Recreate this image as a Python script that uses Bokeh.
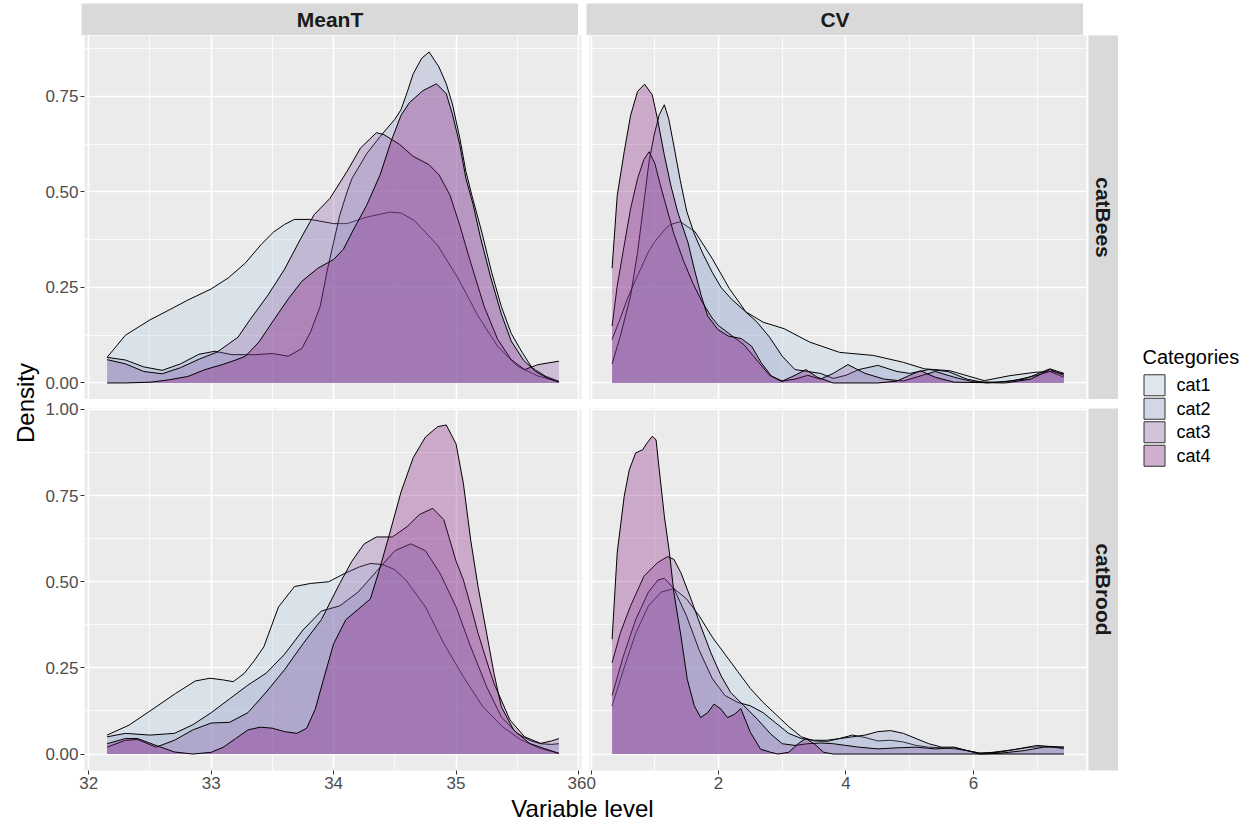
import math
from bokeh.plotting import figure
from bokeh.models import (Range1d, FactorRange, FixedTicker, LinearAxis, Grid, Label,
                          NumeralTickFormatter, ColumnDataSource, Spacer)
from bokeh.core.properties import value
from bokeh.layouts import row, column
from bokeh.embed import file_html
from bokeh.resources import INLINE

# ---------------- data ----------------
CATEGORIES = ["cat1", "cat2", "cat3", "cat4"]
VARIABLES = ["MeanT", "CV"]
GROUPS = ["catBees", "catBrood"]
MEANT_TICKS = [32, 33, 34, 35, 36]
MEANT_MINOR = [32.5, 33.5, 34.5, 35.5]
CV_TICKS = [0, 2, 4, 6]
CV_MINOR = [1, 3, 5, 7]
Y_TICKS_BEES = [0.0, 0.25, 0.5, 0.75]
Y_MINOR_BEES = [0.125, 0.375, 0.625, 0.875]
Y_TICKS_BROOD = [0.0, 0.25, 0.5, 0.75, 1.0]
Y_MINOR_BROOD = [0.125, 0.375, 0.625, 0.875]

# MeanT / catBees
MT_BEES_CAT1_X = [32.15, 32.3, 32.5, 32.68, 32.81, 33.0, 33.14, 33.28, 33.41, 33.51, 33.6, 33.68, 33.81, 34.0, 34.11, 34.27, 34.46, 34.55, 34.66, 34.85, 35.02, 35.18, 35.34, 35.5, 35.67, 35.84]
MT_BEES_CAT1_Y = [0.067, 0.125, 0.165, 0.195, 0.217, 0.246, 0.275, 0.314, 0.363, 0.395, 0.415, 0.428, 0.428, 0.417, 0.417, 0.434, 0.447, 0.445, 0.425, 0.36, 0.272, 0.175, 0.096, 0.044, 0.018, 0.004]
MT_BEES_CAT2_X = [32.15, 32.3, 32.45, 32.6, 32.75, 32.9, 33.03, 33.17, 33.36, 33.5, 33.63, 33.74, 33.81, 33.89, 33.95, 34.0, 34.05, 34.11, 34.15, 34.27, 34.38, 34.5, 34.55, 34.6, 34.65, 34.72, 34.78, 34.86, 34.92, 34.97, 35.03, 35.08, 35.13, 35.21, 35.29, 35.37, 35.45, 35.54, 35.62, 35.73, 35.84]
MT_BEES_CAT2_Y = [0.067, 0.06, 0.042, 0.033, 0.05, 0.075, 0.083, 0.074, 0.074, 0.077, 0.07, 0.09, 0.132, 0.2, 0.298, 0.368, 0.439, 0.5, 0.535, 0.6, 0.645, 0.69, 0.715, 0.76, 0.809, 0.85, 0.866, 0.827, 0.783, 0.73, 0.642, 0.554, 0.49, 0.395, 0.29, 0.2, 0.13, 0.08, 0.04, 0.018, 0.004]
MT_BEES_CAT3_X = [32.15, 32.3, 32.45, 32.6, 32.75, 32.9, 33.05, 33.22, 33.32, 33.46, 33.6, 33.73, 33.84, 33.97, 34.11, 34.22, 34.35, 34.41, 34.54, 34.65, 34.78, 34.86, 34.95, 35.03, 35.11, 35.23, 35.34, 35.45, 35.56, 35.67, 35.84]
MT_BEES_CAT3_Y = [0.061, 0.05, 0.03, 0.024, 0.04, 0.062, 0.081, 0.12, 0.167, 0.228, 0.298, 0.377, 0.44, 0.483, 0.554, 0.615, 0.655, 0.65, 0.624, 0.593, 0.571, 0.545, 0.492, 0.413, 0.325, 0.2, 0.114, 0.061, 0.035, 0.048, 0.057]
MT_BEES_CAT4_X = [32.15, 32.3, 32.5, 32.65, 32.81, 32.95, 33.09, 33.2, 33.28, 33.39, 33.52, 33.63, 33.74, 33.87, 34.0, 34.08, 34.16, 34.27, 34.38, 34.47, 34.55, 34.62, 34.73, 34.84, 34.92, 34.97, 35.03, 35.08, 35.14, 35.2, 35.28, 35.37, 35.45, 35.55, 35.65, 35.75, 35.84]
MT_BEES_CAT4_Y = [0.0, 0.0, 0.002, 0.008, 0.017, 0.035, 0.048, 0.06, 0.07, 0.107, 0.169, 0.22, 0.266, 0.3, 0.323, 0.35, 0.4, 0.465, 0.545, 0.633, 0.7, 0.734, 0.765, 0.783, 0.757, 0.704, 0.624, 0.536, 0.466, 0.38, 0.28, 0.18, 0.11, 0.06, 0.03, 0.012, 0.002]

# MeanT / catBrood
MT_BROOD_CAT1_X = [32.15, 32.33, 32.55, 32.71, 32.87, 32.99, 33.1, 33.18, 33.27, 33.35, 33.43, 33.55, 33.68, 33.81, 33.96, 34.09, 34.21, 34.3, 34.4, 34.5, 34.59, 34.75, 34.9, 35.06, 35.22, 35.38, 35.53, 35.69, 35.84]
MT_BROOD_CAT1_Y = [0.055, 0.084, 0.137, 0.176, 0.212, 0.22, 0.215, 0.21, 0.234, 0.27, 0.311, 0.427, 0.486, 0.495, 0.5, 0.524, 0.543, 0.553, 0.55, 0.535, 0.505, 0.427, 0.321, 0.224, 0.137, 0.079, 0.041, 0.016, 0.002]
MT_BROOD_CAT2_X = [32.15, 32.3, 32.5, 32.7, 32.85, 33.0, 33.15, 33.3, 33.45, 33.6, 33.75, 33.9, 34.05, 34.2, 34.35, 34.5, 34.63, 34.75, 34.87, 35.0, 35.12, 35.25, 35.37, 35.5, 35.6, 35.69, 35.78, 35.84]
MT_BROOD_CAT2_Y = [0.05, 0.06, 0.055, 0.06, 0.085, 0.12, 0.16, 0.2, 0.235, 0.29, 0.36, 0.415, 0.43, 0.47, 0.53, 0.59, 0.61, 0.59, 0.524, 0.427, 0.311, 0.195, 0.108, 0.06, 0.04, 0.03, 0.028, 0.03]
MT_BROOD_CAT3_X = [32.15, 32.3, 32.4, 32.55, 32.7, 32.85, 33.0, 33.15, 33.3, 33.45, 33.6, 33.75, 33.9, 34.05, 34.15, 34.25, 34.35, 34.48, 34.6, 34.7, 34.81, 34.9, 35.0, 35.06, 35.12, 35.18, 35.25, 35.31, 35.44, 35.56, 35.69, 35.78, 35.84]
MT_BROOD_CAT3_Y = [0.02, 0.04, 0.042, 0.02, 0.04, 0.07, 0.09, 0.092, 0.12, 0.18, 0.245, 0.32, 0.39, 0.495, 0.56, 0.61, 0.63, 0.63, 0.66, 0.695, 0.713, 0.68, 0.56, 0.505, 0.43, 0.35, 0.27, 0.205, 0.099, 0.05, 0.031, 0.038, 0.045]
MT_BROOD_CAT4_X = [32.15, 32.3, 32.4, 32.55, 32.7, 32.85, 33.0, 33.1, 33.2, 33.3, 33.4, 33.5, 33.6, 33.7, 33.78, 33.85, 33.92, 34.0, 34.1, 34.2, 34.3, 34.37, 34.45, 34.55, 34.65, 34.75, 34.85, 34.92, 35.0, 35.06, 35.12, 35.18, 35.25, 35.31, 35.37, 35.47, 35.6, 35.72, 35.84]
MT_BROOD_CAT4_Y = [0.03, 0.045, 0.045, 0.025, 0.006, 0.0, 0.005, 0.02, 0.045, 0.07, 0.078, 0.075, 0.065, 0.06, 0.075, 0.13, 0.22, 0.32, 0.39, 0.42, 0.45, 0.53, 0.63, 0.76, 0.86, 0.92, 0.95, 0.955, 0.9, 0.785, 0.62, 0.485, 0.35, 0.234, 0.137, 0.07, 0.031, 0.016, 0.002]

# CV / catBees
CV_BEES_CAT1_X = [0.33, 0.45, 0.57, 0.7, 0.9, 1.0, 1.17, 1.25, 1.4, 1.63, 1.9, 2.17, 2.43, 2.7, 3.03, 3.43, 3.9, 4.43, 4.9, 5.23, 5.63, 5.9, 6.17, 6.57, 6.97, 7.23, 7.42]
CV_BEES_CAT1_Y = [0.114, 0.165, 0.22, 0.27, 0.343, 0.37, 0.404, 0.415, 0.422, 0.396, 0.326, 0.247, 0.186, 0.159, 0.142, 0.107, 0.08, 0.072, 0.054, 0.037, 0.032, 0.019, 0.006, 0.019, 0.028, 0.03, 0.024]
CV_BEES_CAT2_X = [0.33, 0.46, 0.62, 0.73, 0.83, 0.91, 0.99, 1.07, 1.15, 1.22, 1.3, 1.4, 1.5, 1.62, 1.75, 1.9, 2.04, 2.2, 2.4, 2.6, 2.8, 3.0, 3.2, 3.4, 3.6, 3.8, 4.0, 4.2, 4.5, 4.8, 5.0, 5.3, 5.6, 5.9, 6.2, 6.6, 7.0, 7.2, 7.42]
CV_BEES_CAT2_Y = [0.05, 0.123, 0.228, 0.342, 0.474, 0.579, 0.649, 0.702, 0.728, 0.69, 0.62, 0.53, 0.45, 0.39, 0.34, 0.29, 0.25, 0.22, 0.19, 0.16, 0.12, 0.07, 0.035, 0.03, 0.025, 0.012, 0.02, 0.035, 0.046, 0.03, 0.025, 0.035, 0.03, 0.01, 0.0, 0.005, 0.02, 0.03, 0.015]
CV_BEES_CAT3_X = [0.33, 0.41, 0.52, 0.62, 0.73, 0.83, 0.91, 1.0, 1.1, 1.2, 1.3, 1.45, 1.6, 1.75, 1.9, 2.0, 2.2, 2.4, 2.6, 2.8, 3.0, 3.2, 3.4, 3.6, 3.8, 4.03, 4.3, 4.6, 4.9, 5.2, 5.4, 5.7, 6.0, 6.4, 6.8, 7.2, 7.42]
CV_BEES_CAT3_Y = [0.149, 0.254, 0.36, 0.456, 0.535, 0.585, 0.605, 0.575, 0.51, 0.45, 0.39, 0.32, 0.26, 0.21, 0.17, 0.15, 0.125, 0.1, 0.06, 0.02, 0.005, 0.01, 0.02, 0.01, 0.025, 0.048, 0.025, 0.01, 0.005, 0.02, 0.03, 0.015, 0.003, 0.002, 0.01, 0.037, 0.025]
CV_BEES_CAT4_X = [0.33, 0.41, 0.52, 0.62, 0.73, 0.84, 0.96, 1.04, 1.15, 1.25, 1.36, 1.52, 1.62, 1.73, 1.83, 1.99, 2.15, 2.36, 2.52, 2.67, 2.83, 2.99, 3.2, 3.37, 3.55, 3.8, 4.5, 4.8, 5.0, 5.17, 5.4, 5.7, 6.5, 6.9, 7.2, 7.42]
CV_BEES_CAT4_Y = [0.30, 0.49, 0.605, 0.70, 0.763, 0.782, 0.754, 0.693, 0.596, 0.518, 0.447, 0.368, 0.298, 0.228, 0.175, 0.14, 0.123, 0.116, 0.096, 0.053, 0.018, 0.004, 0.02, 0.035, 0.015, 0.0, 0.0, 0.005, 0.02, 0.032, 0.015, 0.002, 0.0, 0.01, 0.035, 0.02]

# CV / catBrood
CV_BROOD_CAT1_X = [0.33, 0.5, 0.7, 0.9, 1.1, 1.3, 1.5, 1.7, 1.9, 2.1, 2.3, 2.5, 2.7, 2.9, 3.1, 3.3, 3.5, 3.7, 3.9, 4.1, 4.3, 4.5, 4.7, 4.9, 5.1, 5.3, 5.5, 5.7, 5.9, 6.1, 6.3, 6.6, 6.9, 7.2, 7.42]
CV_BROOD_CAT1_Y = [0.14, 0.24, 0.35, 0.43, 0.47, 0.48, 0.45, 0.40, 0.34, 0.29, 0.24, 0.19, 0.15, 0.115, 0.08, 0.05, 0.038, 0.036, 0.045, 0.055, 0.048, 0.038, 0.04, 0.035, 0.025, 0.02, 0.018, 0.015, 0.01, 0.002, 0.005, 0.012, 0.02, 0.022, 0.02]
CV_BROOD_CAT2_X = [0.33, 0.5, 0.7, 0.9, 1.05, 1.15, 1.3, 1.5, 1.7, 1.9, 2.1, 2.3, 2.5, 2.7, 2.9, 3.1, 3.3, 3.5, 3.7, 3.9, 4.1, 4.3, 4.5, 4.7, 4.9, 5.1, 5.3, 5.5, 5.7, 5.9, 6.1, 6.4, 6.7, 7.0, 7.2, 7.42]
CV_BROOD_CAT2_Y = [0.17, 0.28, 0.39, 0.47, 0.505, 0.51, 0.48, 0.4, 0.3, 0.22, 0.17, 0.15, 0.14, 0.12, 0.09, 0.06, 0.045, 0.04, 0.04, 0.045, 0.05, 0.055, 0.065, 0.068, 0.06, 0.045, 0.03, 0.02, 0.02, 0.01, 0.003, 0.005, 0.015, 0.025, 0.022, 0.015]
CV_BROOD_CAT3_X = [0.33, 0.46, 0.62, 0.83, 1.04, 1.2, 1.3, 1.41, 1.57, 1.72, 1.88, 2.04, 2.19, 2.4, 2.61, 2.82, 3.0, 3.2, 3.4, 3.6, 3.8, 4.0, 4.2, 4.5, 4.8, 5.1, 5.4, 5.7, 5.9, 6.1, 6.4, 6.8, 7.1, 7.42]
CV_BROOD_CAT3_Y = [0.265, 0.352, 0.43, 0.516, 0.555, 0.573, 0.565, 0.526, 0.449, 0.372, 0.294, 0.227, 0.179, 0.14, 0.101, 0.058, 0.03, 0.025, 0.03, 0.032, 0.03, 0.025, 0.02, 0.015, 0.018, 0.02, 0.015, 0.018, 0.01, 0.0, 0.002, 0.01, 0.02, 0.02]
CV_BROOD_CAT4_X = [0.33, 0.41, 0.52, 0.6, 0.7, 0.81, 0.88, 0.96, 1.02, 1.07, 1.15, 1.23, 1.3, 1.41, 1.51, 1.62, 1.72, 1.83, 1.93, 2.04, 2.14, 2.25, 2.35, 2.5, 2.66, 2.82, 2.93, 3.1, 3.25, 3.37, 3.5, 3.65, 3.8, 4.5, 5.5, 6.5, 7.42]
CV_BROOD_CAT4_Y = [0.333, 0.584, 0.748, 0.825, 0.874, 0.883, 0.903, 0.922, 0.912, 0.825, 0.69, 0.584, 0.468, 0.343, 0.217, 0.14, 0.106, 0.12, 0.145, 0.13, 0.106, 0.115, 0.132, 0.063, 0.014, 0.005, 0.0, 0.005, 0.03, 0.045, 0.03, 0.005, 0.0, 0.0, 0.0, 0.0, 0.0]

SERIES = {
    ("MeanT", "catBees"): [(MT_BEES_CAT1_X, MT_BEES_CAT1_Y), (MT_BEES_CAT2_X, MT_BEES_CAT2_Y),
                           (MT_BEES_CAT3_X, MT_BEES_CAT3_Y), (MT_BEES_CAT4_X, MT_BEES_CAT4_Y)],
    ("MeanT", "catBrood"): [(MT_BROOD_CAT1_X, MT_BROOD_CAT1_Y), (MT_BROOD_CAT2_X, MT_BROOD_CAT2_Y),
                            (MT_BROOD_CAT3_X, MT_BROOD_CAT3_Y), (MT_BROOD_CAT4_X, MT_BROOD_CAT4_Y)],
    ("CV", "catBees"): [(CV_BEES_CAT1_X, CV_BEES_CAT1_Y), (CV_BEES_CAT2_X, CV_BEES_CAT2_Y),
                        (CV_BEES_CAT3_X, CV_BEES_CAT3_Y), (CV_BEES_CAT4_X, CV_BEES_CAT4_Y)],
    ("CV", "catBrood"): [(CV_BROOD_CAT1_X, CV_BROOD_CAT1_Y), (CV_BROOD_CAT2_X, CV_BROOD_CAT2_Y),
                         (CV_BROOD_CAT3_X, CV_BROOD_CAT3_Y), (CV_BROOD_CAT4_X, CV_BROOD_CAT4_Y)],
}

# ---------------- styles / layout sizes ----------------
PALETTE = ["#b3cde3", "#8c96c6", "#8856a7", "#810f7c"]
FILL_ALPHA = 0.3
FONT = "Liberation Sans"
PANEL_BG = "#EBEBEB"
STRIP_BG = "#D9D9D9"
KEY_BG = (242, 242, 242)
FRAME_W = 497
TOP_H = 364
BOT_H = 362
GAP = 9
YLAB_W = 42
LEFT_AX = 39
AX_BOTTOM = 26
STRIP_TOP = 3
STRIP_H = 32
STRIP_W = 30
XLAB_H = 28
XLAB_FY = 1 - 12 / XLAB_H
LEG_W = 134
LEG_TITLE_TOP = 343
LEG_TITLE_H = 26
LEG_KEYS_TOP = 373
LEG_SLOT = 23.5
LEG_KEY_X = 36
LEG_LABEL_X = 58
LEG_TITLE_X = 24


def expand(lo, hi, frac=0.05):
    d = (hi - lo) * frac
    return Range1d(lo - d, hi + d)


def x_range_for(var):
    xs = [v for g in GROUPS for (x, _) in SERIES[(var, g)] for v in x]
    return expand(min(xs), max(xs))


def y_range_for(grp):
    ys = [v for var in VARIABLES for (_, y) in SERIES[(var, grp)] for v in y]
    return expand(0.0, max(ys))


def style_axis(ax):
    ax.axis_line_color = None
    ax.major_tick_line_color = "#333333"
    ax.major_tick_out = 4
    ax.major_tick_in = 0
    ax.minor_tick_line_color = None
    ax.major_label_text_color = "#4D4D4D"
    ax.major_label_text_font_size = "17px"
    ax.major_label_text_font = FONT
    ax.major_label_standoff = 2


X_TICKS = {"MeanT": (MEANT_TICKS, MEANT_MINOR), "CV": (CV_TICKS, CV_MINOR)}
Y_TICKS = {"catBees": (Y_TICKS_BEES, Y_MINOR_BEES), "catBrood": (Y_TICKS_BROOD, Y_MINOR_BROOD)}
X_RANGES = {v: x_range_for(v) for v in VARIABLES}
Y_RANGES = {g: y_range_for(g) for g in GROUPS}


def panel(var, grp, left_axis, bottom_axis, bl, br, bt, bb, fh):
    p = figure(frame_width=FRAME_W, frame_height=fh,
               x_range=X_RANGES[var], y_range=Y_RANGES[grp],
               x_axis_location=None, y_axis_location=None,
               toolbar_location=None, output_backend="svg",
               background_fill_color=PANEL_BG, border_fill_color="white",
               outline_line_color=None,
               min_border_left=bl, min_border_right=br, min_border_top=bt, min_border_bottom=bb)
    p.center = [r for r in p.center if not isinstance(r, Grid)]
    xt, xm = X_TICKS[var]
    yt, ym = Y_TICKS[grp]
    for dim, (t, m) in ((0, (xt, xm)), (1, (yt, ym))):
        g = Grid(dimension=dim, ticker=FixedTicker(ticks=t, minor_ticks=m),
                 grid_line_color="white", grid_line_width=1.6,
                 minor_grid_line_color="white", minor_grid_line_width=0.8)
        p.add_layout(g, "center")
    for i, (xs, ys) in enumerate(SERIES[(var, grp)]):
        src = ColumnDataSource(dict(x=xs, y=ys))
        p.varea(x="x", y1=0, y2="y", source=src, fill_color=PALETTE[i], fill_alpha=FILL_ALPHA)
        p.line(x="x", y="y", source=src, line_color="black", line_width=1.0, line_join="round")
    if left_axis:
        ax = LinearAxis(ticker=FixedTicker(ticks=yt), formatter=NumeralTickFormatter(format="0.00"))
        style_axis(ax)
        p.add_layout(ax, "left")
    if bottom_axis:
        ax = LinearAxis(ticker=FixedTicker(ticks=xt))
        style_axis(ax)
        p.add_layout(ax, "below")
    return p


def text_box(w, h, text, size, bold=False, angle=0.0, bg=None, bl=0, br=0, bt=0, bb=0,
             color="#1A1A1A", align="center", fx=0.5, fy=0.5):
    p = figure(frame_width=w, frame_height=h, x_range=Range1d(0, 1), y_range=Range1d(0, 1),
               x_axis_location=None, y_axis_location=None, toolbar_location=None,
               output_backend="svg", outline_line_color=None,
               background_fill_color=bg if bg else "white", border_fill_color="white",
               min_border_left=bl, min_border_right=br, min_border_top=bt, min_border_bottom=bb)
    p.grid.visible = False
    p.add_layout(Label(x=fx, y=fy, text=text, text_align=align, text_baseline="middle",
                       text_font=FONT, text_font_size=size,
                       text_font_style="bold" if bold else "normal",
                       text_color=color, angle=angle))
    return p


# strips
strip_mean = text_box(FRAME_W, STRIP_H, VARIABLES[0], "21px", bold=True, bg=STRIP_BG, bt=STRIP_TOP)
strip_cv = text_box(FRAME_W, STRIP_H, VARIABLES[1], "21px", bold=True, bg=STRIP_BG, bt=STRIP_TOP)
strip_bees = text_box(STRIP_W, TOP_H, GROUPS[0], "21px", bold=True, angle=-math.pi / 2, bg=STRIP_BG)
strip_brood = text_box(STRIP_W, BOT_H, GROUPS[1], "21px", bold=True, angle=-math.pi / 2, bg=STRIP_BG,
                       bt=GAP, bb=AX_BOTTOM)

# panels
p_tl = panel("MeanT", "catBees", True, False, LEFT_AX, 5, 0, 0, TOP_H)
p_tr = panel("CV", "catBees", False, False, 3, 2, 0, 0, TOP_H)
p_bl = panel("MeanT", "catBrood", True, True, LEFT_AX, 5, GAP, AX_BOTTOM, BOT_H)
p_br = panel("CV", "catBrood", False, True, 3, 2, GAP, AX_BOTTOM, BOT_H)

# axis titles
xlab = text_box(FRAME_W * 2 + 8, XLAB_H, "Variable level", "24px", bl=LEFT_AX, color="black", fy=XLAB_FY)
ylab = text_box(YLAB_W - 8, TOP_H + GAP + BOT_H, "Density", "24px", angle=math.pi / 2,
                bl=8, bt=STRIP_TOP + STRIP_H, bb=AX_BOTTOM + XLAB_H, color="black")

# legend: title + keys drawn on a categorical scale
leg_title = figure(frame_width=LEG_W, frame_height=LEG_TITLE_H, x_range=Range1d(0, LEG_W),
                   y_range=Range1d(0, 1), x_axis_location=None, y_axis_location=None,
                   toolbar_location=None, output_backend="svg", outline_line_color=None,
                   min_border=0, background_fill_color="white", border_fill_color="white")
leg_title.grid.visible = False
leg_title.add_layout(Label(x=LEG_TITLE_X, y=0.5, text="Categories", text_align="left",
                           text_baseline="middle", text_font=FONT, text_font_size="20px",
                           text_color="black"))

key_colors = []
for i in range(len(CATEGORIES)):
    rgb = [int(round(int(PALETTE[i][1 + 2 * k:3 + 2 * k], 16) * FILL_ALPHA + KEY_BG[k] * (1 - FILL_ALPHA)))
           for k in range(3)]
    key_colors.append("#%02x%02x%02x" % tuple(rgb))

keys_h = int(round(LEG_SLOT * len(CATEGORIES)))
leg_keys = figure(frame_width=LEG_W, frame_height=keys_h, x_range=Range1d(0, LEG_W),
                  y_range=FactorRange(factors=list(reversed(CATEGORIES)), range_padding=0),
                  x_axis_location=None, y_axis_location=None,
                  toolbar_location=None, output_backend="svg", outline_line_color=None,
                  min_border=0, background_fill_color="white", border_fill_color="white")
leg_keys.grid.visible = False
key_src = ColumnDataSource(dict(cat=CATEGORIES, color=key_colors,
                                kx=[LEG_KEY_X] * len(CATEGORIES), lx=[LEG_LABEL_X] * len(CATEGORIES)))
leg_keys.rect(x="kx", y="cat", width=21, height=21, width_units="screen", height_units="screen",
              fill_color="color", line_color="#333333", line_width=1, source=key_src)
leg_keys.text(x="lx", y="cat", text="cat", text_baseline="middle", text_align="left",
              text_font=value(FONT), text_font_size=value("18px"), text_color="black", source=key_src)

legend_col = column(
    Spacer(width=LEG_W, height=LEG_TITLE_TOP),
    leg_title,
    Spacer(width=LEG_W, height=LEG_KEYS_TOP - LEG_TITLE_TOP - LEG_TITLE_H),
    leg_keys,
)

grid_col = column(
    row(Spacer(width=LEFT_AX, height=STRIP_TOP + STRIP_H), strip_mean, Spacer(width=8, height=STRIP_TOP + STRIP_H),
        strip_cv, Spacer(width=2 + STRIP_W, height=STRIP_TOP + STRIP_H)),
    row(p_tl, p_tr, strip_bees),
    row(p_bl, p_br, strip_brood),
    xlab,
)
layout = row(ylab, grid_col, legend_col)

open("out.html", "w").write(file_html(layout, INLINE))
